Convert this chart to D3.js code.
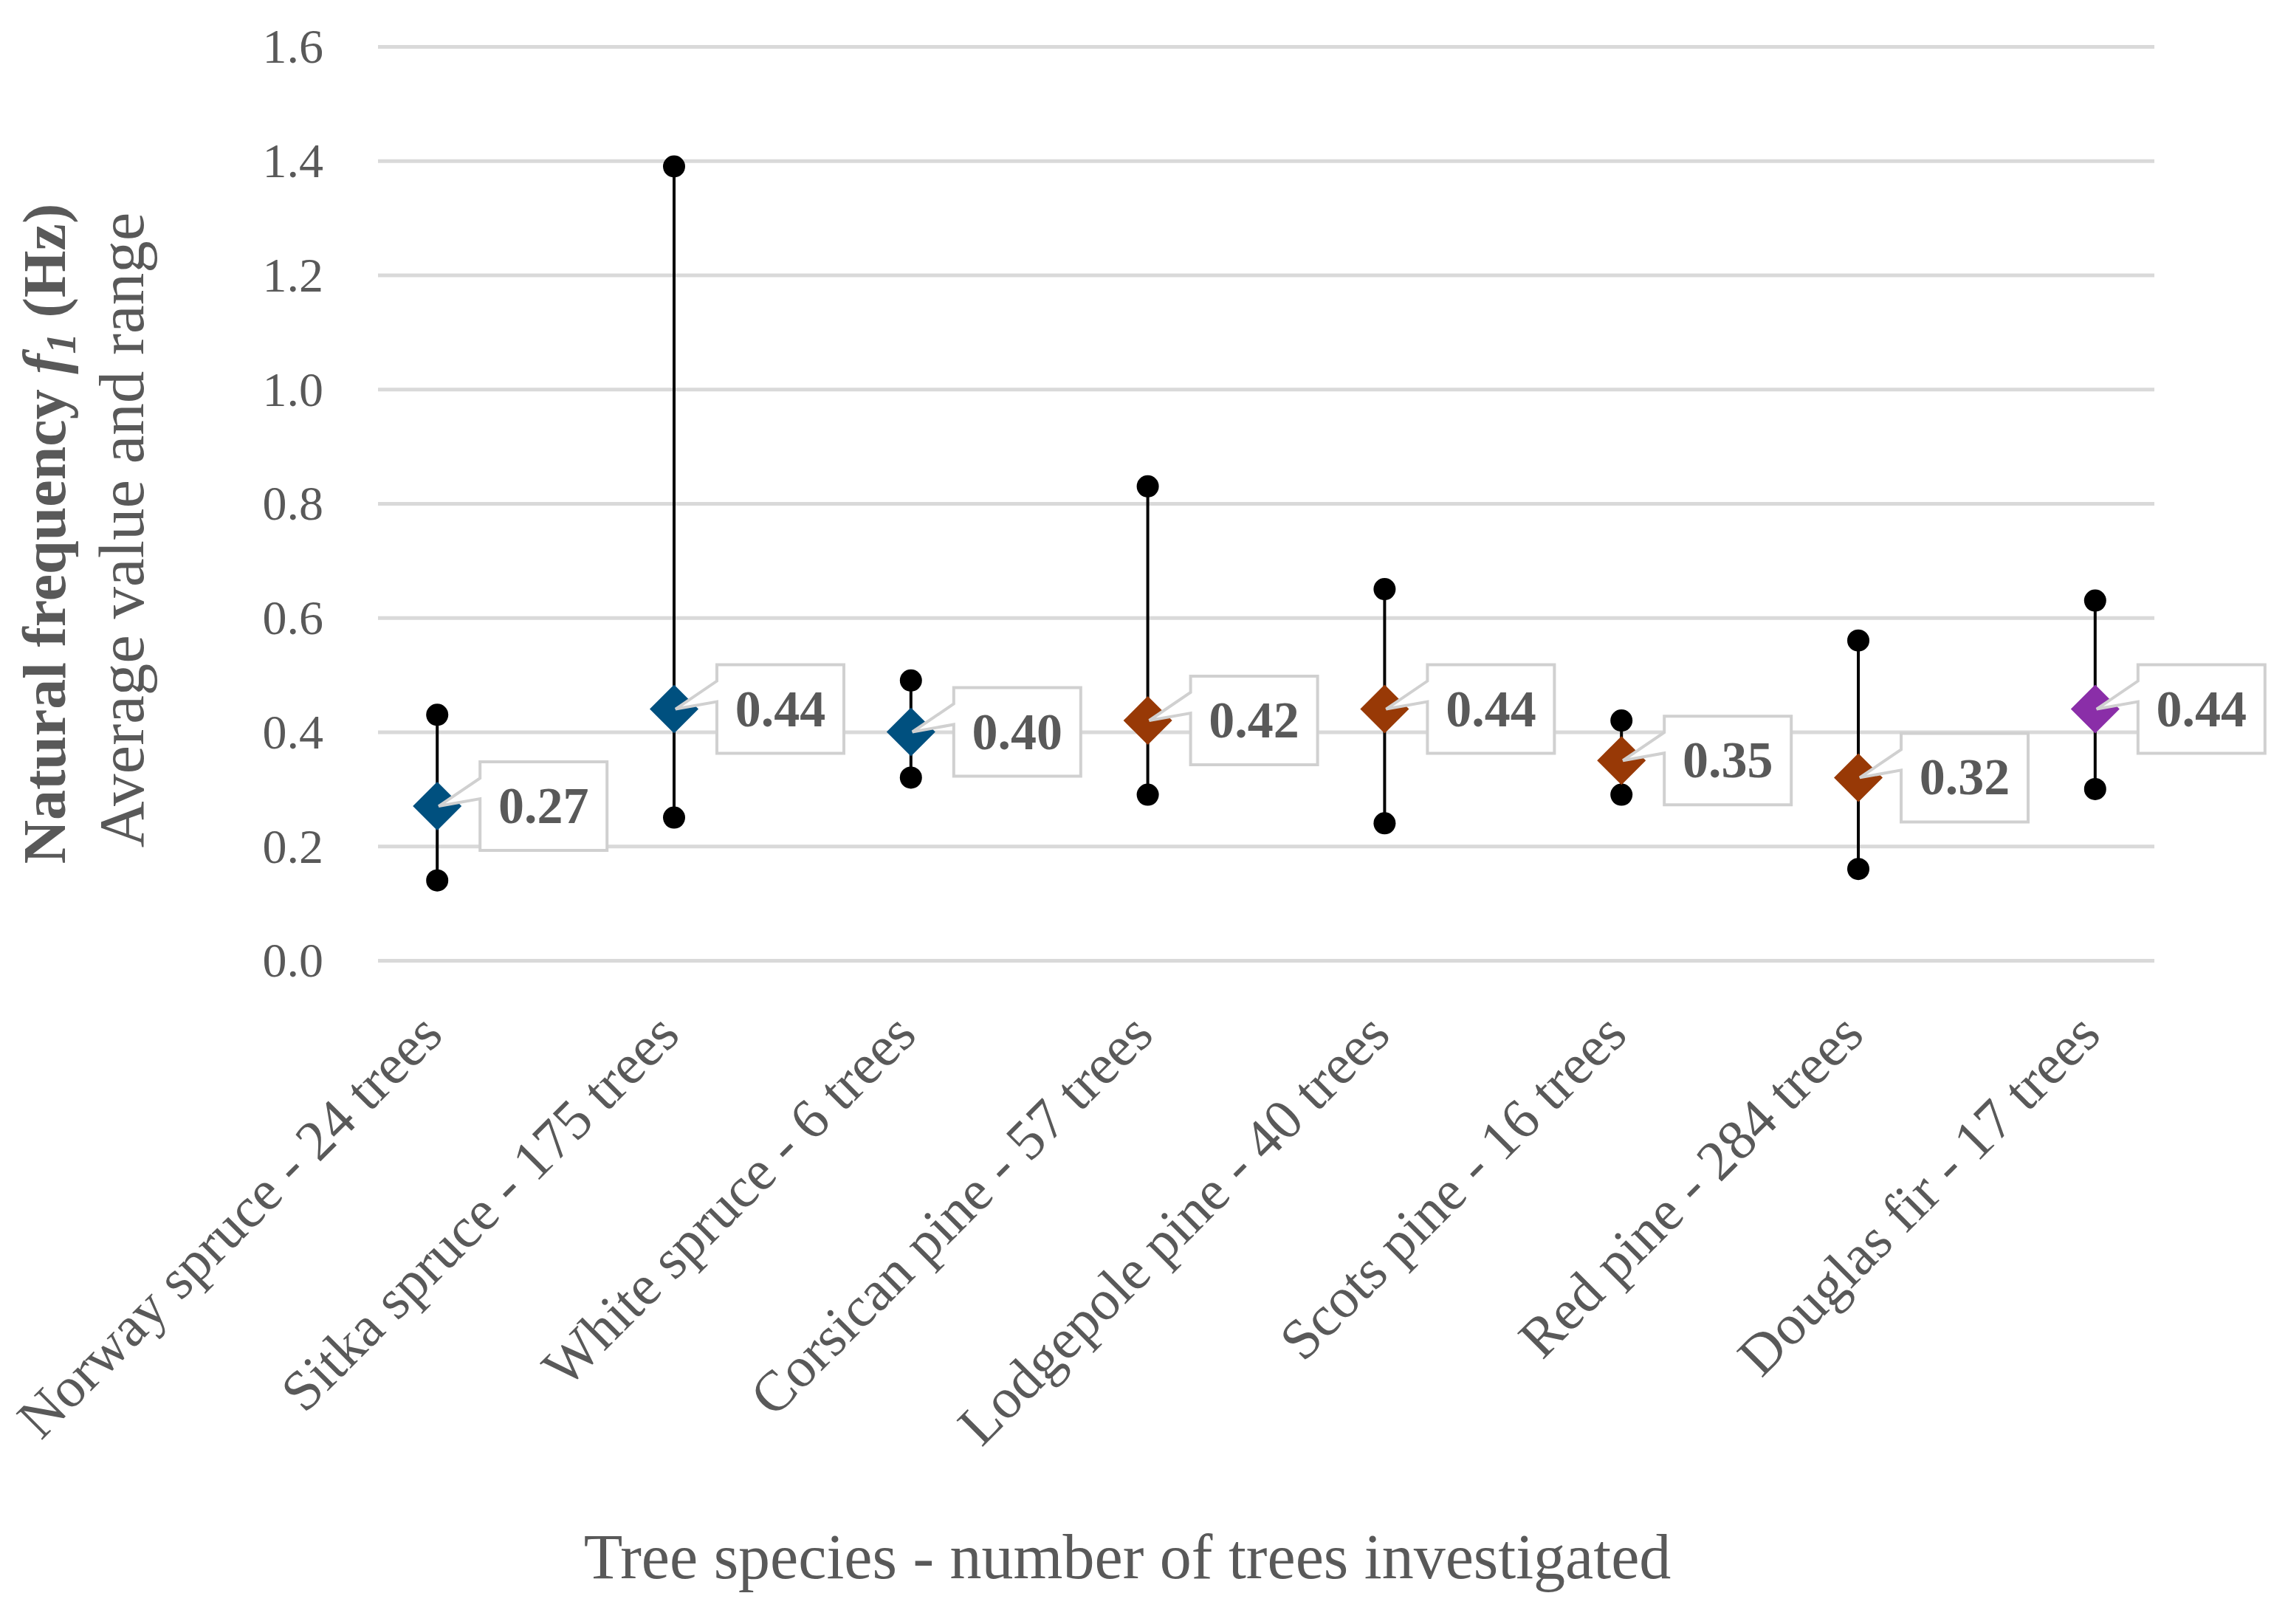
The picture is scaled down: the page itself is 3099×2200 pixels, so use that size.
<!DOCTYPE html>
<html>
<head>
<meta charset="utf-8">
<script src="https://cdn.jsdelivr.net/npm/d3@7"></script>
<style>
  html, body { margin: 0; padding: 0; background: #ffffff; }
  svg { display: block; }
</style>
</head>
<body>
<svg id="chart" width="3099" height="2200"></svg>
<script>
// ---------------- data ----------------
const categories = [
  "Norway spruce - 24 trees",
  "Sitka spruce - 175 trees",
  "White spruce - 6 trees",
  "Corsican pine - 57 trees",
  "Lodgepole pine - 40 trees",
  "Scots pine - 16 trees",
  "Red pine - 284 trees",
  "Douglas fir - 17 trees"
];
const avgValues = [0.27, 0.44, 0.40, 0.42, 0.44, 0.35, 0.32, 0.44];
const maxValues = [0.43, 1.39, 0.49, 0.83, 0.65, 0.42, 0.56, 0.63];
const minValues = [0.14, 0.25, 0.32, 0.29, 0.24, 0.29, 0.16, 0.30];
const groups    = ["spruce", "spruce", "spruce", "pine", "pine", "pine", "pine", "fir"];
const yTicks    = [0.0, 0.2, 0.4, 0.6, 0.8, 1.0, 1.2, 1.4, 1.6];

const groupColor = { spruce: "#00507f", pine: "#983906", fir: "#8a2ea8" };

const FONT = "'Palatino Linotype', 'Book Antiqua', Palatino, 'Liberation Serif', serif";
const TXT = "#595959";

const svg = d3.select("#chart");

const plot = { left: 512, right: 2918, top: 63, bottom: 1301 };

const x = d3.scalePoint().domain(categories).range([plot.left, plot.right]).padding(0.25);
const y = d3.scaleLinear().domain([0, 1.6]).range([plot.bottom, plot.top]);

const rows = categories.map((c, i) => ({
  cat: c, avg: avgValues[i], max: maxValues[i], min: minValues[i], group: groups[i]
}));

// ---------------- gridlines + y axis ----------------
const yAxis = d3.axisLeft(y).tickValues(yTicks).tickFormat(d3.format(".1f"))
  .tickSize(-(plot.right - plot.left)).tickPadding(74);

const gy = svg.append("g").attr("transform", `translate(${plot.left},0)`).call(yAxis);
gy.select(".domain").remove();
gy.selectAll(".tick line").attr("stroke", "#d9d9d9").attr("stroke-width", 5);
gy.selectAll(".tick text")
  .attr("font-family", FONT).attr("font-size", 66).attr("fill", TXT)
  .attr("dy", "0.33em");

// ---------------- x axis labels ----------------
const xAxis = d3.axisBottom(x).tickSize(0).tickPadding(0);
const gx = svg.append("g").attr("transform", `translate(0,${plot.bottom})`).call(xAxis);
gx.select(".domain").remove();
gx.selectAll(".tick text")
  .attr("font-family", FONT).attr("font-size", 77).attr("fill", TXT)
  .attr("text-anchor", "end")
  .attr("dy", null).attr("y", null)
  .attr("transform", "translate(10,104) rotate(-45)");

// ---------------- whiskers ----------------
svg.append("g").selectAll("line").data(rows).join("line")
  .attr("x1", d => x(d.cat)).attr("x2", d => x(d.cat))
  .attr("y1", d => y(d.min)).attr("y2", d => y(d.max))
  .attr("stroke", "#000").attr("stroke-width", 4);

const dots = [];
rows.forEach(d => { dots.push({ cat: d.cat, v: d.max }); dots.push({ cat: d.cat, v: d.min }); });
svg.append("g").selectAll("circle").data(dots).join("circle")
  .attr("cx", d => x(d.cat)).attr("cy", d => y(d.v)).attr("r", 15)
  .attr("fill", "#000");

// ---------------- diamonds ----------------
const dh = 33;
svg.append("g").selectAll("path").data(rows).join("path")
  .attr("d", d => {
    const cx = x(d.cat), cy = y(d.avg);
    return `M${cx},${cy - dh}L${cx + dh},${cy}L${cx},${cy + dh}L${cx - dh},${cy}Z`;
  })
  .attr("fill", d => groupColor[d.group]);

// ---------------- callout labels ----------------
const boxW = 172, boxH = 120, boxOff = 58;
const lab = svg.append("g").selectAll("g").data(rows).join("g");
lab.append("path")
  .attr("d", d => {
    const cx = x(d.cat), cy = y(d.avg);
    const L = cx + boxOff, R = L + boxW, T = cy - boxH / 2, B = cy + boxH / 2;
    return `M${L},${T}L${R},${T}L${R},${B}L${L},${B}L${L},${cy - 10}L${cx + 2},${cy}L${L},${cy - 38}Z`;
  })
  .attr("fill", "#ffffff").attr("stroke", "#d0d0d0").attr("stroke-width", 4)
  .attr("stroke-linejoin", "miter");
lab.append("text")
  .attr("x", d => x(d.cat) + boxOff + boxW / 2)
  .attr("y", d => y(d.avg) + 23)
  .attr("text-anchor", "middle")
  .attr("font-family", FONT).attr("font-size", 70).attr("font-weight", "bold")
  .attr("fill", TXT)
  .text(d => d3.format(".2f")(d.avg));

// ---------------- axis titles ----------------
const yt = svg.append("text")
  .attr("transform", "translate(88,723) rotate(-90)")
  .attr("text-anchor", "middle")
  .attr("font-family", FONT).attr("font-size", 82).attr("font-weight", "bold")
  .attr("fill", TXT);
yt.append("tspan").text("Natural frequency ");
yt.append("tspan").attr("font-style", "italic").text("f");
yt.append("tspan").attr("font-style", "italic").attr("font-size", 57).attr("dy", 14).text("1");
yt.append("tspan").attr("dy", -14).text(" (Hz)");

svg.append("text")
  .attr("transform", "translate(194,718) rotate(-90)")
  .attr("text-anchor", "middle")
  .attr("font-family", FONT).attr("font-size", 87)
  .attr("fill", TXT)
  .text("Average value and range");

svg.append("text")
  .attr("x", 1527).attr("y", 2138)
  .attr("text-anchor", "middle")
  .attr("font-family", FONT).attr("font-size", 86)
  .attr("fill", TXT)
  .text("Tree species - number of trees investigated");
</script>
</body>
</html>
